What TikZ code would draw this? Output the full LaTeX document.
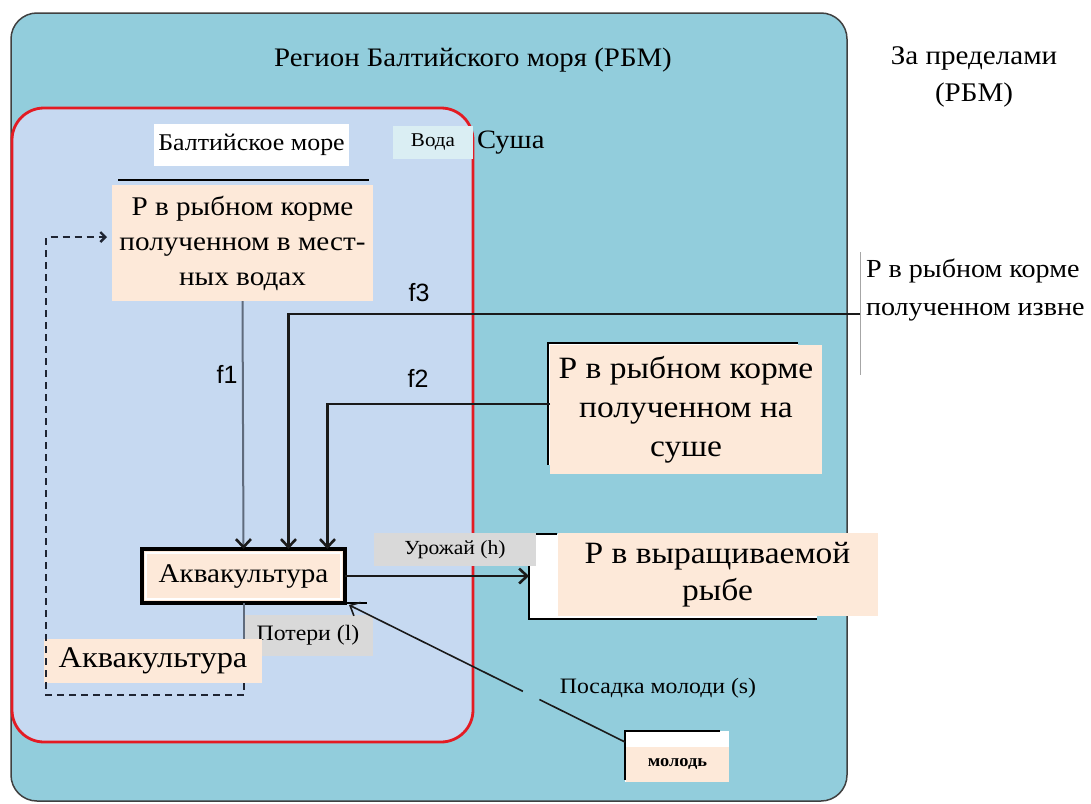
\documentclass[tikz,border=0pt]{standalone}
\usepackage{fontspec}
\setmainfont{Liberation Serif}[FakeStretch=1.08]
\newfontfamily\labelsans{Liberation Sans}
\usetikzlibrary{arrows.meta}
\definecolor{regionblue}{HTML}{92CDDC}
\definecolor{seablue}{HTML}{C6D9F1}
\definecolor{peach}{HTML}{FDE9D9}
\definecolor{tagGray}{HTML}{D9D9D9}
\definecolor{waterTag}{HTML}{DAEEF3}
\definecolor{seaRed}{HTML}{E31B23}
\definecolor{flowInk}{HTML}{1A1A1A}
\definecolor{feedLine}{HTML}{5F6B7D}
\definecolor{dashInk}{HTML}{1F2533}
\newcommand\fsz[2]{\fontsize{#1}{#2}\selectfont}

\begin{document}
\begin{tikzpicture}[x=1pt,y=-1pt,
  box/.style={rectangle, inner sep=0pt, outer sep=0pt, align=center, text=black},
  pool/.style={box, fill=peach},
  tag/.style={box, fill=tagGray},
  backing/.style={rectangle, inner sep=0pt, outer sep=0pt, fill=white},
  flow/.style={draw=flowInk, line width=2.6pt, -{Straight Barb[length=8pt,width=15pt]}},
  feedflow/.style={draw=feedLine, line width=2pt, -{Straight Barb[length=8pt,width=15pt,color=flowInk,line width=2.6pt]}},
  stockline/.style={draw=flowInk, line width=1.6pt},
  stockflow/.style={stockline, -{Straight Barb[length=8pt,width=15pt]}},
  backflow/.style={draw=dashInk, line width=2pt, dash pattern=on 7pt off 5pt, -{Straight Barb[length=5pt,width=10pt,line width=2.4pt]}},
  edge/.style={draw=black, line width=2pt},
  flowname/.style={box, font=\labelsans\fsz{25}{30}}
]
\useasboundingbox (0,0) rectangle (1091,803);
\fill[white] (0,0) rectangle (1091,803);

% Baltic Sea Region and the sea itself
\draw[draw=black!75, line width=1.5pt, fill=regionblue, rounded corners=26pt] (11,13) rectangle (847,801);
\draw[draw=seaRed, line width=2.8pt, fill=seablue, rounded corners=32pt] (12,108) rectangle (473,742);

% headings
\node[box, font=\fsz{26.7}{32}] (region) at (473,60) {Регион Балтийского моря (РБМ)};
\node[box, font=\fsz{26.9}{37}] (outside) at (974,77) {За пределами\\(РБМ)};
\node[box, fill=white, minimum width=195pt, minimum height=42pt, font=\fsz{24}{28}] (sea) at (251.5,145) {Балтийское море};
\node[box, fill=waterTag, minimum width=80pt, minimum height=33pt, font=\fsz{19.5}{23}] (water) at (433,142) {Вода};
\node[box, anchor=west, font=\fsz{26.5}{30}] (land) at (477,143) {Суша};

% P pools
\draw[edge] (118,180) -- (369,180);
\node[pool, minimum width=261pt, minimum height=116pt, font=\fsz{27}{35}] (localfeed) at (242.5,243) {Р в рыбном корме\\полученном в мест-\\ных водах};

\node[backing, minimum width=250pt, minimum height=122pt] (landback) at (673,404) {};
\draw[edge] (landback.north east) -- (landback.north west) -- (landback.south west);
\node[pool, minimum width=272pt, minimum height=129pt, font=\fsz{31}{39}] (landfeed) at (686,409.5) {Р в рыбном корме\\полученном на\\суше};

\draw[gray!70, line width=0.8pt] (860,252) -- (860,375);
\node[box, anchor=west, align=left, font=\fsz{26}{38}] (extfeed) at (866,290) {Р в рыбном корме\\полученном извне};
\coordinate (extport) at (860,314);

\node[backing, minimum width=288pt, minimum height=85pt] (fishback) at (673,576.5) {};
\draw[edge] ([xshift=28pt]fishback.north west) -- (fishback.north west) -- (fishback.south west) -- (fishback.south east);
\node[pool, minimum width=320pt, minimum height=83pt, font=\fsz{31}{37}] (fish) at (717.5,574.5) {Р в выращиваемой\\рыбе};

\node[backing, minimum width=104pt, minimum height=51pt] (juvback) at (677,756.5) {};
\draw[edge] ([xshift=-9pt]juvback.north east) -- (juvback.north west) -- ([yshift=2pt]juvback.south west);
\node[pool, minimum width=103pt, minimum height=35pt, font=\fsz{17}{20}\bfseries] (juv) at (677.5,764) {молодь};

% aquaculture
\node[pool, draw=black, line width=4.5pt, minimum width=203pt, minimum height=54pt, font=\fsz{27}{32}] (aqua) at (243.5,576) {Аквакультура};
\draw[white, line width=1.5pt] ([shift={(4pt,-4pt)}]aqua.north west) rectangle ([shift={(-4pt,4pt)}]aqua.south east);
\draw[edge] (aqua.south east) -- ++(22,0);
\node[tag, minimum width=130pt, minimum height=41pt, font=\fsz{22}{26}] (loss) at (308,635) {Потери (l)};
\node[pool, minimum width=218pt, minimum height=44pt, font=\fsz{30}{35}] (aqualabel) at (153,661) {Аквакультура};
\node[tag, minimum width=162pt, minimum height=33pt, font=\fsz{20}{24}] (harvest) at (455,549.5) {Урожай (h)};
\node[box, font=\fsz{22}{26}] (stocklbl) at (658,688) {Посадка молоди (s)};

% flow names
\node[flowname] (f1) at (227,374) {f1};
\node[flowname] (f3) at (419,293) {f3};
\node[flowname] (f2) at (418,378) {f2};

% flows
\draw[feedflow] (localfeed.south) -- (aqua.north);
\draw[flow] (extport) -| ([xshift=45pt]aqua.north);
\draw[flow] ([yshift=5.5pt]landfeed.west) -| ([xshift=84pt]aqua.north);
\draw[flow] (aqua.east) -- (fishback.west |- aqua.east);
\path ([yshift=-11pt]juvback.north west) coordinate (stockstart)
      -- ([xshift=4pt,yshift=-2pt]aqua.south east) coordinate (stockend)
      coordinate[pos=0.31] (stockgapA) coordinate[pos=0.37] (stockgapB);
\draw[stockline] (stockstart) -- (stockgapA);
\draw[stockflow] (stockgapB) -- (stockend);
\draw[draw=feedLine, line width=2pt] (aqua.south) -- (aqualabel.north -| aqua.south);
\draw[backflow] (aqualabel.south -| aqua.south) -- ++(0,12) -| (46,237) -- ([yshift=6pt,xshift=-5pt]localfeed.west);
\end{tikzpicture}
\end{document}
